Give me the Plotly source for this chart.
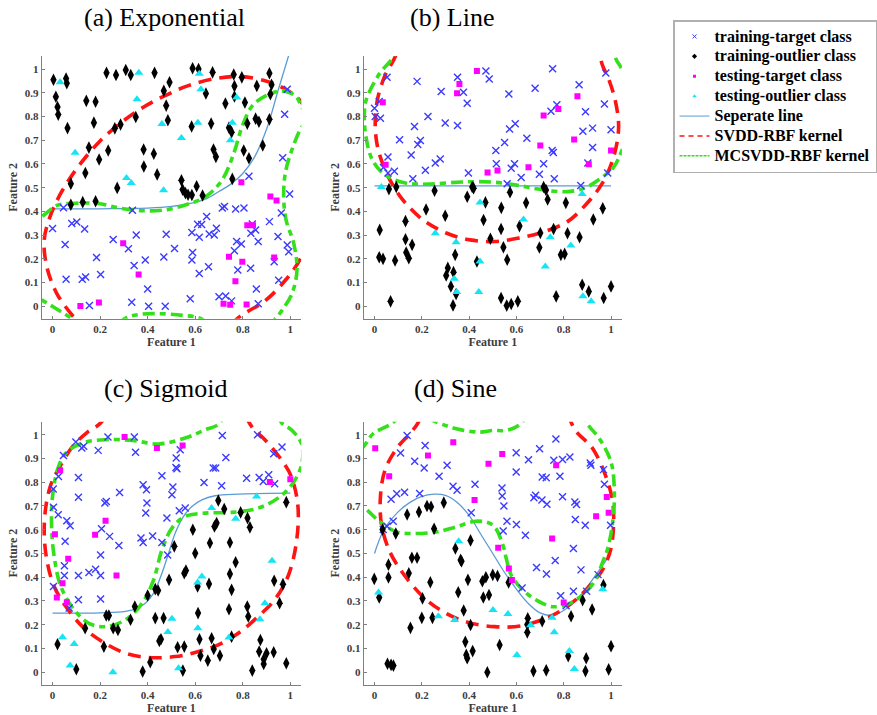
import plotly.graph_objects as go

# ---------------- data ----------------
X_TICKS = [0, 0.2, 0.4, 0.6, 0.8, 1]
X_TICK_TEXT = ["0", "0.2", "0.4", "0.6", "0.8", "1"]
Y_TICKS = [0, 0.1, 0.2, 0.3, 0.4, 0.5, 0.6, 0.7, 0.8, 0.9, 1]
Y_TICK_TEXT = ["0", "0.1", "0.2", "0.3", "0.4", "0.5", "0.6", "0.7", "0.8", "0.9", "1"]
TITLES = ["(a) Exponential", "(b) Line", "(c) Sigmoid", "(d) Sine"]
LEGEND_NAMES = ["training-target class", "training-outlier class", "testing-target class",
                "testing-outlier class", "Seperate line", "SVDD-RBF kernel", "MCSVDD-RBF kernel"]

# (a) Exponential
A_TRAIN_TGT = [(0.046,0.415),(0.0,0.328),(0.081,0.349),(0.102,0.355),(0.135,0.326),(0.053,0.261),(0.057,0.114),
    (0.125,0.114),(0.139,0.124),(0.185,0.206),(0.202,0.134),(0.155,0.004),(0.255,0.282),(0.319,0.243),(0.352,0.301),
    (0.343,0.172),(0.333,0.017),(0.336,0.405),(0.39,0.195),(0.4,0.073),(0.404,0.0),(0.468,0.208),(0.478,0.304),
    (0.474,0.0),(0.513,0.244),(0.586,0.311),(0.589,0.227),(0.586,0.195),(0.579,0.032),(0.61,0.346),(0.627,0.345),
    (0.648,0.379),(0.617,0.291),(0.617,0.138),(0.659,0.305),(0.68,0.301),(0.689,0.329),(0.656,0.167),(0.7,0.04),
    (0.728,0.044),(0.723,0.421),(0.714,0.414),(0.77,0.41),(0.805,0.414),(0.765,0.234),(0.774,0.273),(0.794,0.263),
    (0.779,0.153),(0.753,0.023),(0.826,0.548),(0.84,0.347),(0.834,0.308),(0.854,0.322),(0.865,0.273),(0.833,0.16),
    (0.857,0.073),(0.865,0.011),(0.912,0.357),(0.948,0.294),(0.932,0.188),(0.951,0.11),(0.962,0.393),(0.968,0.626),
    (0.976,0.809),(0.987,0.915),(0.997,0.473),(0.987,0.258),(0.993,0.23)]
A_TRAIN_OUT = [(0.004,0.955),(0.057,0.96),(0.06,0.94),(0.014,0.883),(0.021,0.84),(0.024,0.808),(0.063,0.751),
    (0.077,0.517),(0.077,0.428),(0.127,0.439),(0.181,0.443),(0.142,0.866),(0.181,0.862),(0.174,0.774),(0.153,0.669),
    (0.138,0.562),(0.196,0.619),(0.227,0.984),(0.267,0.975),(0.308,0.996),(0.329,0.975),(0.262,0.75),(0.286,0.766),
    (0.234,0.657),(0.272,0.499),(0.35,0.798),(0.383,0.661),(0.384,0.589),(0.426,0.643),(0.44,0.556),(0.429,0.984),
    (0.468,0.908),(0.492,0.944),(0.478,0.846),(0.485,0.784),(0.542,0.531),(0.547,0.492),(0.559,0.477),(0.57,0.47),
    (0.586,0.469),(0.606,0.506),(0.631,0.467),(0.589,1.003),(0.614,1.0),(0.673,0.986),(0.645,0.897),(0.585,0.758),
    (0.667,0.77),(0.677,0.661),(0.687,0.63),(0.762,0.977),(0.796,0.965),(0.765,0.928),(0.765,0.884),(0.727,0.855),
    (0.809,0.859),(0.742,0.753),(0.753,0.734),(0.819,0.77),(0.756,0.537),(0.804,0.657),(0.826,0.624),(0.859,0.929),
    (0.854,0.791),(0.868,0.778),(0.884,0.678),(0.912,0.982),(0.916,0.894),(0.912,0.788),(0.921,0.934)]
A_TEST_TGT = [(0.117,0.001),(0.195,0.016),(0.297,0.266),(0.362,0.134),(0.794,0.523),(0.819,0.342),(0.843,0.342),
    (0.742,0.209),(0.798,0.188),(0.769,0.106),(0.719,0.011),(0.747,0.007),(0.816,0.008),(0.916,0.463),(0.942,0.446),
    (0.932,0.206)]
A_TEST_OUT = [(0.032,0.944),(0.095,0.647),(0.363,0.984),(0.355,0.873),(0.311,0.541),(0.331,0.52),(0.46,0.768),
    (0.467,0.489),(0.542,0.709),(0.617,0.98),(0.624,0.915),(0.611,0.774),(0.774,0.88),(0.756,0.774),(0.748,0.7)]
A_SEP = [(0.0,0.411),(0.1,0.411),(0.2,0.411),(0.3,0.412),(0.4,0.414),(0.5,0.421),(0.6,0.438),(0.65,0.455),
    (0.7,0.484),(0.75,0.515),(0.8,0.56),(0.85,0.63),(0.9,0.746),(0.95,0.915),(1.0,1.08)]
A_SVDD = [(0.70,-0.15),(0.777,-0.052),(0.896,0.025),(0.979,0.11),(1.042,0.2),(1.10,0.35),(1.12,0.55),(1.10,0.75),
    (1.042,0.866),(0.979,0.915),(0.909,0.946),(0.798,0.968),(0.687,0.96),(0.568,0.929),(0.471,0.887),(0.38,0.838),
    (0.297,0.781),(0.199,0.696),(0.109,0.59),(0.039,0.484),(-0.01,0.379),(-0.035,0.28),(-0.024,0.167),(0.018,0.054),
    (0.095,-0.052),(0.17,-0.13)]
A_MCSVDD = [(-0.15,0.33),(-0.045,0.379),(0.018,0.425),(0.116,0.435),(0.2,0.432),(0.283,0.414),(0.38,0.403),
    (0.478,0.407),(0.561,0.428),(0.645,0.463),(0.714,0.534),(0.763,0.647),(0.798,0.76),(0.84,0.845),(0.896,0.887),
    (0.965,0.908),(1.021,0.887),(1.049,0.838),(1.07,0.79),(1.042,0.746),(1.007,0.661),(0.979,0.562),(0.972,0.463),
    (0.982,0.364),(1.014,0.266),(1.028,0.153),(1.007,0.054),(0.965,-0.017),(0.937,-0.052),(0.85,-0.15),(0.70,-0.12),
    (0.624,-0.052),(0.547,-0.038),(0.45,-0.031),(0.366,-0.034),(0.304,-0.052),(0.2,-0.14),(0.081,-0.052),
    (0.004,-0.003),(-0.052,0.032),(-0.15,0.1)]

# (b) Line
B_TRAIN_TGT = [(0.0,0.835),(0.003,0.8),(0.02,0.863),(0.025,0.793),(0.053,0.965),(0.038,0.585),(0.057,0.629),
    (0.057,0.562),(0.084,0.569),(0.106,0.702),(0.18,0.948),(0.169,0.758),(0.155,0.638),(0.183,0.682),(0.194,0.699),
    (0.162,0.538),(0.226,0.8),(0.215,0.573),(0.257,0.604),(0.278,0.621),(0.282,0.905),(0.299,0.773),(0.351,0.965),
    (0.351,0.762),(0.376,0.902),(0.392,0.856),(0.397,0.562),(0.471,0.992),(0.485,0.958),(0.513,0.657),(0.515,0.601),
    (0.55,0.69),(0.571,0.747),(0.595,0.769),(0.568,0.895),(0.578,0.582),(0.592,0.601),(0.561,0.517),(0.62,0.543),
    (0.644,0.708),(0.679,0.919),(0.697,0.557),(0.715,0.601),(0.746,0.822),(0.751,0.657),(0.756,0.648),(0.753,1.001),
    (0.76,0.538),(0.771,0.85),(0.865,0.934),(0.872,0.509),(0.881,0.738),(0.892,0.82),(0.922,0.751),(0.922,0.669),
    (0.902,0.604),(0.972,0.853),(0.978,0.983),(0.986,0.562),(1.0,0.744)]
B_TRAIN_OUT = [(0.022,0.322),(0.02,0.207),(0.036,0.2),(0.061,0.494),(0.092,0.503),(0.087,0.193),(0.068,0.021),
    (0.131,0.359),(0.131,0.283),(0.134,0.227),(0.145,0.203),(0.159,0.259),(0.218,0.408),(0.254,0.487),(0.299,0.382),
    (0.303,0.13),(0.31,0.162),(0.323,0.084),(0.334,0.144),(0.341,0.217),(0.345,0.052),(0.332,0.004),(0.392,0.462),
    (0.413,0.503),(0.419,0.498),(0.433,0.189),(0.469,0.438),(0.461,0.364),(0.49,0.285),(0.536,0.415),(0.535,0.326),
    (0.545,0.249),(0.561,0.196),(0.535,0.035),(0.559,0.003),(0.578,0.01),(0.606,0.021),(0.573,0.481),(0.613,0.338),
    (0.641,0.436),(0.715,0.503),(0.725,0.49),(0.732,0.45),(0.701,0.309),(0.697,0.248),(0.757,0.326),(0.788,0.217),
    (0.809,0.436),(0.816,0.308),(0.804,0.221),(0.768,0.042),(0.867,0.291),(0.878,0.091),(0.906,0.063),(0.925,0.366),
    (0.965,0.413),(0.969,0.035),(1.0,0.084)]
B_TEST_TGT = [(0.035,0.86),(0.047,0.597),(0.349,0.898),(0.359,0.937),(0.433,0.992),(0.478,0.564),(0.52,0.572),
    (0.651,0.586),(0.701,0.678),(0.715,0.804),(0.777,0.832),(0.844,0.703),(0.858,0.885),(0.906,0.599),(1.0,0.657)]
B_TEST_OUT = [(0.029,0.503),(0.257,0.308),(0.345,0.27),(0.337,0.116),(0.348,0.06),(0.446,0.438),(0.446,0.189),
    (0.441,0.06),(0.63,0.366),(0.743,0.291),(0.722,0.168),(0.83,0.256),(0.878,0.473),(0.881,0.042),(0.916,0.021)]
B_SEP = [(0.0,0.508),(1.0,0.508)]
B_SVDD = [(0.10,1.15),(0.089,1.056),(0.047,0.979),(0.013,0.874),(0.003,0.762),(0.013,0.671),(0.04,0.587),
    (0.082,0.503),(0.138,0.427),(0.215,0.357),(0.306,0.308),(0.404,0.28),(0.508,0.273),(0.606,0.287),(0.718,0.315),
    (0.816,0.357),(0.892,0.427),(0.962,0.517),(1.011,0.629),(1.032,0.755),(1.018,0.867),(0.99,0.958),(0.962,1.021),
    (0.94,1.15)]
B_MCSVDD = [(0.10,1.15),(0.082,1.056),(0.02,0.979),(-0.036,0.867),(-0.043,0.797),(-0.036,0.713),(-0.008,0.615),
    (0.047,0.552),(0.131,0.52),(0.229,0.515),(0.369,0.524),(0.494,0.524),(0.606,0.51),(0.704,0.492),(0.809,0.483),
    (0.885,0.497),(0.955,0.538),(1.011,0.587),(1.046,0.657),(1.12,0.85),(1.046,1.0),(1.018,1.049),(1.0,1.15)]

# (c) Sigmoid
C_TRAIN_TGT = [(0.004,0.695),(0.003,0.771),(0.004,0.361),(0.024,0.663),(0.025,0.824),(0.046,0.912),(0.06,0.638),
    (0.053,0.551),(0.05,0.448),(0.05,0.407),(0.074,0.617),(0.07,0.27),(0.098,0.969),(0.123,0.944),(0.131,0.951),
    (0.109,0.82),(0.109,0.737),(0.109,0.407),(0.109,0.305),(0.153,0.42),(0.181,0.434),(0.202,0.407),(0.202,0.494),
    (0.206,0.604),(0.202,0.308),(0.192,0.934),(0.226,0.719),(0.22,0.712),(0.233,0.99),(0.24,0.572),(0.279,0.534),
    (0.282,0.757),(0.344,0.99),(0.349,0.926),(0.372,0.565),(0.381,0.546),(0.381,0.789),(0.395,0.768),(0.397,0.712),
    (0.392,0.67),(0.421,0.574),(0.46,0.827),(0.46,0.546),(0.481,0.649),(0.484,0.494),(0.502,0.747),(0.506,0.78),
    (0.52,0.902),(0.519,0.862),(0.523,0.857),(0.537,0.937),(0.533,0.68),(0.558,0.691),(0.637,0.799),(0.676,0.86),
    (0.686,0.86),(0.714,0.997),(0.711,0.785),(0.729,0.904),(0.816,0.817),(0.862,1.0),(0.869,0.82),(0.886,0.803),
    (0.909,0.831),(0.93,0.92),(0.934,0.794),(0.965,0.948)]
C_TRAIN_OUT = [(0.021,0.118),(0.1,0.013),(0.137,0.185),(0.216,0.108),(0.226,0.239),(0.237,0.239),(0.255,0.185),
    (0.275,0.178),(0.328,0.221),(0.346,0.277),(0.379,0.003),(0.411,0.042),(0.4,0.323),(0.432,0.35),(0.444,0.344),
    (0.432,0.228),(0.467,0.228),(0.449,0.132),(0.456,0.139),(0.49,0.389),(0.512,0.53),(0.526,0.105),(0.554,0.108),
    (0.548,0.007),(0.554,0.417),(0.561,0.428),(0.59,0.6),(0.6,0.501),(0.61,0.361),(0.612,0.249),(0.618,0.139),
    (0.622,0.07),(0.653,0.049),(0.658,0.372),(0.662,0.544),(0.669,0.143),(0.678,0.098),(0.681,0.614),(0.69,0.628),
    (0.697,0.723),(0.722,0.687),(0.704,0.07),(0.742,0.265),(0.746,0.546),(0.746,0.414),(0.753,0.347),(0.77,0.463),
    (0.753,0.15),(0.791,0.673),(0.82,0.649),(0.83,0.61),(0.819,0.277),(0.823,0.235),(0.84,0.007),(0.874,0.136),
    (0.869,0.087),(0.888,0.055),(0.888,0.035),(0.9,0.08),(0.93,0.084),(0.932,0.385),(0.955,0.291),(0.969,0.371),
    (0.983,0.716),(0.983,0.038)]
C_TEST_TGT = [(0.01,0.581),(0.018,0.315),(0.032,0.85),(0.042,0.375),(0.06,0.295),(0.066,0.478),(0.179,0.579),
    (0.223,0.638),(0.269,0.407),(0.303,0.99),(0.439,0.944),(0.547,0.955),(0.914,0.801),(1.0,0.813)]
C_TEST_OUT = [(0.042,0.147),(0.091,0.119),(0.074,0.028),(0.254,0.0),(0.502,0.225),(0.485,0.169),(0.53,0.017),
    (0.61,0.378),(0.628,0.403),(0.611,0.185),(0.669,0.691),(0.77,0.646),(0.742,0.146),(0.858,0.74),(0.872,0.223),
    (0.893,0.291),(0.923,0.469)]
C_SEP = [(0.0,0.249),(0.1,0.249),(0.2,0.25),(0.307,0.256),(0.356,0.27),(0.39,0.29),(0.425,0.333),(0.46,0.417),
    (0.488,0.501),(0.516,0.586),(0.551,0.656),(0.586,0.698),(0.628,0.726),(0.683,0.743),(0.781,0.75),(1.0,0.754)]
C_SVDD = [(0.26,1.15),(0.202,1.049),(0.146,1.01),(0.084,0.95),(0.028,0.86),(-0.007,0.79),(-0.028,0.698),
    (-0.035,0.586),(-0.024,0.473),(0.007,0.361),(0.056,0.277),(0.126,0.192),(0.209,0.129),(0.307,0.08),(0.404,0.062),
    (0.516,0.066),(0.614,0.087),(0.697,0.115),(0.781,0.164),(0.865,0.235),(0.934,0.305),(0.99,0.403),(1.025,0.544),
    (1.032,0.698),(1.004,0.824),(0.962,0.895),(0.893,0.979),(0.837,1.035),(0.78,1.15)]
C_MCSVDD = [(0.72,1.15),(0.704,1.049),(0.642,1.021),(0.558,0.986),(0.446,0.961),(0.335,0.976),(0.223,0.979),
    (0.126,0.965),(0.056,0.923),(0.021,0.853),(0.0,0.74),(-0.004,0.614),(0.007,0.487),(0.035,0.361),(0.091,0.263),
    (0.153,0.206),(0.223,0.192),(0.307,0.221),(0.377,0.291),(0.425,0.389),(0.46,0.515),(0.502,0.607),(0.558,0.656),
    (0.642,0.67),(0.753,0.673),(0.865,0.691),(0.948,0.733),(1.011,0.796),(1.049,0.881),(1.046,0.965),(1.004,1.021),
    (0.962,1.052),(0.93,1.15)]

# (d) Sine
D_TRAIN_TGT = [(0.138,0.997),(0.214,0.955),(0.11,0.923),(0.17,0.888),(0.21,0.86),(0.307,0.871),(0.273,0.825),
    (0.332,0.783),(0.349,0.766),(0.425,0.791),(0.07,0.728),(0.094,0.751),(0.127,0.758),(0.191,0.752),(0.409,0.671),
    (0.079,0.636),(0.053,0.615),(0.037,0.601),(0.767,0.982),(0.698,0.941),(0.599,0.924),(0.651,0.895),(0.758,0.892),
    (0.795,0.896),(0.826,0.906),(0.912,0.881),(0.915,0.871),(0.968,0.853),(0.972,0.791),(0.599,0.843),(0.709,0.822),
    (0.726,0.819),(0.784,0.825),(0.539,0.776),(0.54,0.742),(0.547,0.70),(0.681,0.745),(0.674,0.735),(0.708,0.725),
    (0.729,0.707),(0.795,0.739),(0.847,0.717),(0.854,0.706),(0.56,0.636),(0.60,0.622),(0.849,0.643),(0.891,0.619),
    (0.998,0.619),(0.544,0.595),(0.638,0.577),(0.841,0.521),(0.764,0.47),(0.685,0.441),(0.727,0.414),(0.873,0.431),
    (0.945,0.411),(0.624,0.355),(0.787,0.322),(0.841,0.341),(0.897,0.341),(0.81,0.28)]
D_TRAIN_OUT = [(0.138,0.664),(0.188,0.675),(0.222,0.70),(0.239,0.697),(0.293,0.714),(0.252,0.604),(0.09,0.584),
    (0.034,0.601),(0.406,0.555),(0.342,0.521),(-0.001,0.393),(0.02,0.315),(0.059,0.453),(0.059,0.399),(0.055,0.036),
    (0.07,0.031),(0.08,0.028),(0.158,0.482),(0.18,0.482),(0.145,0.417),(0.236,0.379),(0.203,0.311),(0.2,0.229),
    (0.245,0.229),(0.152,0.187),(0.364,0.473),(0.368,0.467),(0.395,0.389),(0.354,0.337),(0.377,0.26),(0.406,0.199),
    (0.384,0.128),(0.392,0.059),(0.388,0.073),(0.415,0.089),(0.477,0.0),(0.456,0.383),(0.471,0.40),(0.50,0.41),
    (0.52,0.405),(0.46,0.315),(0.484,0.325),(0.567,0.378),(0.529,0.115),(0.648,0.227),(0.646,0.201),(0.646,0.168),
    (0.709,0.215),(0.831,0.236),(0.88,0.303),(0.92,0.264),(0.968,0.367),(1.0,0.11),(0.819,0.068),(0.895,0.059),
    (0.672,0.005),(0.726,0.008),(0.892,0.005),(0.99,0.012)]
D_TEST_TGT = [(0.003,0.943),(0.333,0.968),(0.226,0.912),(0.062,0.825),(0.482,0.878),(0.423,0.725),(0.54,0.919),
    (0.768,0.871),(0.982,0.738),(0.99,0.671),(0.937,0.657),(0.751,0.563),(0.523,0.524),(0.568,0.437),(0.581,0.388),
    (0.80,0.294)]
D_TEST_OUT = [(0.356,0.552),(0.017,0.336),(0.27,0.236),(0.339,0.22),(0.501,0.262),(0.564,0.245),(0.66,0.198),
    (0.751,0.229),(0.76,0.168),(0.602,0.073),(0.824,0.089),(0.845,0.014),(0.965,0.349)]
D_SEP = [(0.0,0.5),(0.04,0.6),(0.1,0.675),(0.15,0.715),(0.2,0.74),(0.25,0.75),(0.3,0.745),(0.35,0.715),(0.4,0.66),
    (0.45,0.58),(0.5,0.5),(0.55,0.42),(0.6,0.35),(0.65,0.29),(0.7,0.25),(0.75,0.24),(0.8,0.26),(0.85,0.3),(0.9,0.36),
    (0.95,0.43),(1.0,0.5)]
D_SVDD = [(0.22,1.15),(0.184,1.05),(0.149,1.004),(0.093,0.941),(0.044,0.85),(0.025,0.738),(0.03,0.619),
    (0.065,0.507),(0.121,0.416),(0.205,0.318),(0.29,0.255),(0.395,0.21),(0.508,0.192),(0.62,0.195),(0.74,0.234),
    (0.803,0.269),(0.873,0.325),(0.923,0.38),(0.959,0.423),(0.996,0.507),(1.01,0.605),(1.007,0.717),(0.979,0.822),
    (0.923,0.941),(0.845,1.025),(0.80,1.15)]
D_MCSVDD = [(-0.15,0.85),(-0.048,0.948),(-0.006,1.004),(0.065,1.042),(0.15,1.1),(0.262,1.053),(0.346,1.025),
    (0.444,1.011),(0.501,1.018),(0.557,1.018),(0.613,1.042),(0.70,1.15),(0.85,1.15),(0.9,1.046),(0.951,0.983),
    (1.0,0.885),(1.014,0.759),(1.007,0.633),(0.986,0.521),(0.965,0.465),(0.937,0.395),(0.895,0.339),(0.824,0.29),
    (0.754,0.276),(0.684,0.304),(0.627,0.346),(0.578,0.409),(0.557,0.479),(0.543,0.535),(0.501,0.619),(0.43,0.636),
    (0.346,0.612),(0.262,0.591),(0.177,0.584),(0.093,0.591),(0.023,0.633),(-0.048,0.696),(-0.15,0.75)]

PANELS = [
    (A_TRAIN_TGT, A_TRAIN_OUT, A_TEST_TGT, A_TEST_OUT, A_SEP, A_SVDD, A_MCSVDD),
    (B_TRAIN_TGT, B_TRAIN_OUT, B_TEST_TGT, B_TEST_OUT, B_SEP, B_SVDD, B_MCSVDD),
    (C_TRAIN_TGT, C_TRAIN_OUT, C_TEST_TGT, C_TEST_OUT, C_SEP, C_SVDD, C_MCSVDD),
    (D_TRAIN_TGT, D_TRAIN_OUT, D_TEST_TGT, D_TEST_OUT, D_SEP, D_SVDD, D_MCSVDD),
]

# ---------------- styling ----------------
W, H = 877, 715
FONT = "Liberation Serif"
BLUE = "#3b3bff"
MAGENTA = "#ff00ff"
CYAN = "#14e4f4"
SEP_COLOR = "#5b9bd5"
RED = "#ff1414"
GREEN = "#33e01a"

X_DOMAINS = [(0.0477, 0.3455), (0.417, 0.7132), (0.0477, 0.3455), (0.417, 0.7132)]
Y_DOMAINS = [(0.5543, 0.9217), (0.5543, 0.9217), (0.0425, 0.4103), (0.0425, 0.4103)]
X_RANGE = [-0.046, 1.046]
Y_RANGE = [-0.052, 1.055]

fig = go.Figure()


def xs(pts):
    return [p[0] for p in pts]


def ys(pts):
    return [p[1] for p in pts]


for i, (tt, to, st, so, sep, svdd, mcs) in enumerate(PANELS):
    xa = "x" if i == 0 else f"x{i+1}"
    ya = "y" if i == 0 else f"y{i+1}"
    common = dict(xaxis=xa, yaxis=ya, showlegend=False, hoverinfo="skip")
    fig.add_trace(go.Scatter(x=xs(sep), y=ys(sep), mode="lines", line=dict(color=SEP_COLOR, width=1.3, shape="spline"), **common))
    fig.add_trace(go.Scatter(x=xs(svdd), y=ys(svdd), mode="lines",
                             line=dict(color=RED, width=3.6, dash="13px,8px", shape="spline", smoothing=1.0), **common))
    fig.add_trace(go.Scatter(x=xs(mcs), y=ys(mcs), mode="lines",
                             line=dict(color=GREEN, width=3.6, dash="12px,5px,6px,5px", shape="spline", smoothing=1.0), **common))
    fig.add_trace(go.Scatter(x=xs(tt), y=ys(tt), mode="markers",
                             marker=dict(symbol="x-thin", size=7, line=dict(color=BLUE, width=1.4)), **common))
    fig.add_trace(go.Scatter(x=xs(to), y=ys(to), mode="markers",
                             marker=dict(symbol="diamond-tall", size=9, color="black"), **common))
    fig.add_trace(go.Scatter(x=xs(st), y=ys(st), mode="markers",
                             marker=dict(symbol="square", size=6, color=MAGENTA), **common))
    fig.add_trace(go.Scatter(x=xs(so), y=ys(so), mode="markers",
                             marker=dict(symbol="triangle-up", size=8, color=CYAN), **common))

# legend-only entries (small symbols as in the reference legend); the label is set in a
# 16px span while the legend font (which sets the row pitch) stays at 13px -> 20px rows
def leg_name(s):
    return f"<span style='font-size:16px'>{s}</span>"


leg_common = dict(x=[None], y=[None], xaxis="x", yaxis="y", showlegend=True)
fig.add_trace(go.Scatter(name=leg_name(LEGEND_NAMES[0]), mode="markers",
                         marker=dict(symbol="x-thin", size=4, line=dict(color=BLUE, width=1)), **leg_common))
fig.add_trace(go.Scatter(name=leg_name(LEGEND_NAMES[1]), mode="markers", marker=dict(symbol="diamond", size=4, color="black"), **leg_common))
fig.add_trace(go.Scatter(name=leg_name(LEGEND_NAMES[2]), mode="markers", marker=dict(symbol="square", size=3, color=MAGENTA), **leg_common))
fig.add_trace(go.Scatter(name=leg_name(LEGEND_NAMES[3]), mode="markers", marker=dict(symbol="triangle-up", size=4, color=CYAN), **leg_common))
fig.add_trace(go.Scatter(name=leg_name(LEGEND_NAMES[4]), mode="lines", line=dict(color=SEP_COLOR, width=1), **leg_common))
fig.add_trace(go.Scatter(name=leg_name(LEGEND_NAMES[5]), mode="lines", line=dict(color=RED, width=1.5, dash="5px,4px"), **leg_common))
fig.add_trace(go.Scatter(name=leg_name(LEGEND_NAMES[6]), mode="lines", line=dict(color=GREEN, width=1.5, dash="3px,1px"), **leg_common))

axis_font = dict(family=FONT, size=11, color="#3c3c3c", weight="bold")
title_font = dict(family=FONT, size=12, color="#3c3c3c", weight="bold")
layout = dict(
    width=W, height=H, template="none",
    margin=dict(l=0, r=0, t=0, b=0),
    paper_bgcolor="white", plot_bgcolor="white",
    legend=dict(x=677 / W, y=1 - 20 / H, xanchor="left", yanchor="top",
                bgcolor="white", bordercolor="#b0b0b0", borderwidth=1.5,
                font=dict(family=FONT, size=13, color="black", weight="bold"),
                itemwidth=30, tracegroupgap=0),
)
for i in range(4):
    k = "" if i == 0 else str(i + 1)
    layout[f"xaxis{k}"] = dict(domain=X_DOMAINS[i], range=X_RANGE, anchor=f"y{k}",
                               tickvals=X_TICKS, ticktext=X_TICK_TEXT, ticks="inside", ticklen=3,
                               tickcolor="#808080", showline=True, linecolor="#808080", linewidth=1,
                               showgrid=False, zeroline=False, tickfont=axis_font, automargin=False,
                               title=dict(text="Feature 1", font=title_font, standoff=2))
    layout[f"yaxis{k}"] = dict(domain=Y_DOMAINS[i], range=Y_RANGE, anchor=f"x{k}",
                               tickvals=Y_TICKS, ticktext=Y_TICK_TEXT, ticks="inside", ticklen=3,
                               tickcolor="#808080", showline=True, linecolor="#808080", linewidth=1,
                               showgrid=False, zeroline=False, tickfont=axis_font, automargin=False,
                               title=dict(text="Feature 2", font=title_font, standoff=4))
fig.update_layout(**layout)

TITLE_POS = [(165, 18), (455, 18), (167, 388), (458, 388)]
for t, (px, py) in zip(TITLES, TITLE_POS):
    fig.add_annotation(text=t, x=px / W, y=1 - py / H, xref="paper", yref="paper",
                       showarrow=False, xanchor="center", yanchor="middle",
                       font=dict(family=FONT, size=26, color="black"))

# remove the browser's default 8px body margin so the figure fills the window exactly
fig.write_html("out.html", config={"displayModeBar": False},
               post_script="document.body.style.margin='0';document.body.style.overflow='hidden';")
